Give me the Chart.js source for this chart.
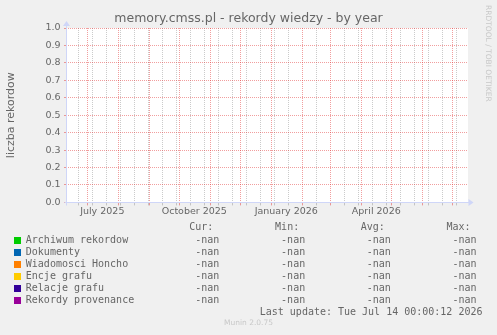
<!DOCTYPE html>
<html>
<head>
<meta charset="utf-8">
<script src="https://cdn.jsdelivr.net/npm/chart.js@4.4.1/dist/chart.umd.min.js"></script>
<style>
  html, body { margin: 0; padding: 0; background: #F0F0F0; }
  #wrap { position: relative; width: 497px; height: 335px; overflow: hidden; background: #F0F0F0; }
  #c { position: absolute; left: 0; top: 0; }
  .mono { position: absolute; font-family: 'DejaVu Sans Mono', monospace; font-size: 10px; line-height: 12px; color: #666; white-space: pre; }
  .sw { position: absolute; width: 7px; height: 7px; }
  #munin { position: absolute; left: 0; width: 497px; top: 318.4px; text-align: center; font-family: 'DejaVu Sans', sans-serif; font-size: 7.5px; line-height: 9px; color: #c8c8c8; }
  #rrd { position: absolute; left: 484px; top: 5px; writing-mode: vertical-rl; font-family: 'DejaVu Sans', sans-serif; font-size: 7.5px; line-height: 9px; color: #c8c8c8; white-space: pre; }
</style>
</head>
<body>
<div id="wrap">
  <canvas id="c" width="497" height="335"></canvas>
  <div id="rrd">RRDTOOL / TOBI OETIKER</div>
  <div id="munin">Munin 2.0.75</div>
</div>
<script>
// ---- data ----
const chartTitle = 'memory.cmss.pl - rekordy wiedzy - by year';
const yAxisTitle = 'liczba rekordow';
const seriesNames = ['Archiwum rekordow', 'Dokumenty', 'Wiadomosci Honcho', 'Encje grafu', 'Relacje grafu', 'Rekordy provenance'];
const seriesColors = ['#00CC00', '#0066B3', '#FF8000', '#FFCC00', '#330099', '#990099'];
// every series is empty (no samples in the period) -> all statistics are NaN
const curValues = [NaN, NaN, NaN, NaN, NaN, NaN];
const minValues = [NaN, NaN, NaN, NaN, NaN, NaN];
const avgValues = [NaN, NaN, NaN, NaN, NaN, NaN];
const maxValues = [NaN, NaN, NaN, NaN, NaN, NaN];
const statHeaders = ['Cur:', 'Min:', 'Avg:', 'Max:'];
const lastUpdate = 'Last update: Tue Jul 14 00:00:12 2026';

// time axis (x is measured in days since rangeStart)
const rangeStart = '2025-06-09';
const rangeEnd = '2026-07-14';
const yTickValues = [0, 0.1, 0.2, 0.3, 0.4, 0.5, 0.6, 0.7, 0.8, 0.9, 1.0];
const monthGridDates = ['2025-07-01', '2025-08-01', '2025-09-01', '2025-10-01', '2025-11-01', '2025-12-01',
  '2026-01-01', '2026-02-01', '2026-03-01', '2026-04-01', '2026-05-01', '2026-06-01', '2026-07-01'];
const weekGridDates = ['2025-06-22', '2025-07-06', '2025-07-20', '2025-08-03', '2025-08-17', '2025-08-31',
  '2025-09-14', '2025-09-28', '2025-10-12', '2025-10-26', '2025-11-09', '2025-11-23', '2025-12-07',
  '2025-12-21', '2026-01-04', '2026-01-18', '2026-02-15', '2026-03-15', '2026-03-29',
  '2026-04-12', '2026-04-26', '2026-05-10', '2026-05-24', '2026-06-07', '2026-06-21', '2026-07-05'];
const xLabelTexts = ['July 2025', 'October 2025', 'January 2026', 'April 2026'];
const xLabelDates = ['2025-07-16', '2025-10-16', '2026-01-16', '2026-04-16'];

// ---- helpers ----
const DAY = 86400000;
const dayOf = d => (Date.parse(d + 'T00:00:00Z') - Date.parse(rangeStart + 'T00:00:00Z')) / DAY;
const fmt = v => (v === null || Number.isNaN(v)) ? '-nan' : v.toFixed(2);

const FONT = '#666666';
const AXIS = '#CFD6F8';
const MGRID = 'rgba(225, 40, 40, 0.45)';
const GRID = 'rgba(140, 140, 140, 0.45)';

const xTicks = [];
weekGridDates.forEach(d => xTicks.push({ value: dayOf(d), kind: 'minor' }));
monthGridDates.forEach(d => xTicks.push({ value: dayOf(d), kind: 'major' }));
xLabelDates.forEach((d, i) => xTicks.push({ value: dayOf(d), kind: 'label', text: xLabelTexts[i] }));
xTicks.sort((a, b) => a.value - b.value);

const munin = {
  id: 'munin',
  beforeDraw(chart) {
    const { ctx, chartArea: a } = chart;
    ctx.save();
    ctx.fillStyle = '#FFFFFF';
    ctx.fillRect(a.left, a.top, a.right - a.left, a.bottom - a.top);
    ctx.restore();
  },
  afterDraw(chart) {
    const { ctx } = chart;
    const xs = chart.scales.x, ys = chart.scales.y;
    const x0 = Math.floor(xs.left) + 0.5;
    const y0 = Math.floor(ys.getPixelForValue(0)) + 0.5;
    const yTop = ys.getPixelForValue(1);
    const xRight = xs.right;
    ctx.save();
    ctx.strokeStyle = AXIS;
    ctx.fillStyle = AXIS;
    ctx.lineWidth = 1;
    ctx.beginPath();
    ctx.moveTo(x0 - 2, y0); ctx.lineTo(xRight + 2, y0);
    ctx.moveTo(x0, y0 + 3); ctx.lineTo(x0, yTop - 2);
    ctx.stroke();
    // arrows
    ctx.beginPath();
    ctx.moveTo(x0 - 3.5, yTop - 2); ctx.lineTo(x0 + 3.5, yTop - 2); ctx.lineTo(x0, yTop - 7); ctx.closePath();
    ctx.fill();
    ctx.beginPath();
    ctx.moveTo(xRight + 0.5, y0 - 3.5); ctx.lineTo(xRight + 0.5, y0 + 3.5); ctx.lineTo(xRight + 5.5, y0); ctx.closePath();
    ctx.fill();
    ctx.restore();
  }
};

new Chart(document.getElementById('c'), {
  type: 'line',
  data: {
    datasets: seriesNames.map((name, i) => ({
      label: name,
      data: [],
      borderColor: seriesColors[i],
      backgroundColor: seriesColors[i],
      borderWidth: 1,
      pointRadius: 0
    }))
  },
  options: {
    responsive: false,
    devicePixelRatio: 1,
    animation: false,
    layout: { padding: 0 },
    plugins: {
      legend: { display: false },
      tooltip: { enabled: false },
      title: {
        display: true,
        text: chartTitle,
        color: FONT,
        font: { family: 'DejaVu Sans', size: 12.5, weight: 'normal' },
        padding: { top: 11, bottom: 2 }
      }
    },
    scales: {
      x: {
        type: 'linear',
        position: 'bottom',
        min: 0.7,
        max: 402.7,
        afterBuildTicks: s => { s.ticks = xTicks.map(t => Object.assign({}, t)); },
        afterFit: s => { s.height = 335 - 202.4; },
        ticks: {
          autoSkip: false,
          maxRotation: 0,
          minRotation: 0,
          padding: 0,
          color: FONT,
          font: { family: 'DejaVu Sans', size: 9.5 },
          callback: (v, i, ticks) => ticks[i].kind === 'label' ? ticks[i].text : ''
        },
        grid: {
          drawOnChartArea: true,
          tickLength: 3,
          color: c => c.tick && c.tick.kind === 'major' ? MGRID : (c.tick && c.tick.kind === 'minor' ? GRID : 'rgba(0,0,0,0)')
        },
        border: { display: false, dash: [1, 1] }
      },
      y: {
        type: 'linear',
        position: 'left',
        min: 0,
        max: 1,
        afterBuildTicks: s => { s.ticks = yTickValues.map(v => ({ value: v })); },
        afterFit: s => { s.width = 66; },
        ticks: {
          padding: 3.5,
          color: FONT,
          font: { family: 'DejaVu Sans', size: 9.5 },
          callback: v => v.toFixed(1)
        },
        grid: { tickLength: 2, color: MGRID },
        border: { display: false, dash: [1, 1] },
        title: {
          display: true,
          text: yAxisTitle,
          color: FONT,
          font: { family: 'DejaVu Sans', size: 11 },
          padding: { top: 4.1, bottom: 0 }
        }
      },
      yRight: {
        type: 'linear',
        position: 'right',
        display: true,
        ticks: { display: false },
        grid: { display: false },
        border: { display: false },
        afterFit: s => { s.width = 497 - 468; }
      }
    }
  },
  plugins: [munin]
});

// ---- legend (munin style table) ----
const wrap = document.getElementById('wrap');
function addText(text, left, top, width, align) {
  const d = document.createElement('div');
  d.className = 'mono';
  d.textContent = text;
  d.style.left = left + 'px';
  d.style.top = top + 'px';
  if (width) { d.style.width = width + 'px'; d.style.textAlign = align; }
  wrap.appendChild(d);
}
const valueRight = [219.3, 305.2, 390.8, 476.5];
const headerTop = 221.1;
const rowTop0 = 233.5;
const rowStep = 12.06;
statHeaders.forEach((h, j) => addText(h, valueRight[j] - 6 - 100, headerTop, 100, 'right'));
const stats = [curValues, minValues, avgValues, maxValues];
seriesNames.forEach((name, i) => {
  const top = rowTop0 + rowStep * i;
  const sw = document.createElement('div');
  sw.className = 'sw';
  sw.style.left = '14px';
  sw.style.top = (top + 3) + 'px';
  sw.style.background = seriesColors[i];
  wrap.appendChild(sw);
  addText(name, 25.8, top);
  stats.forEach((arr, j) => addText(fmt(arr[i]), valueRight[j] - 100, top, 100, 'right'));
});
addText(lastUpdate, 482.5 - 300, 305.5, 300, 'right');
</script>
</body>
</html>
